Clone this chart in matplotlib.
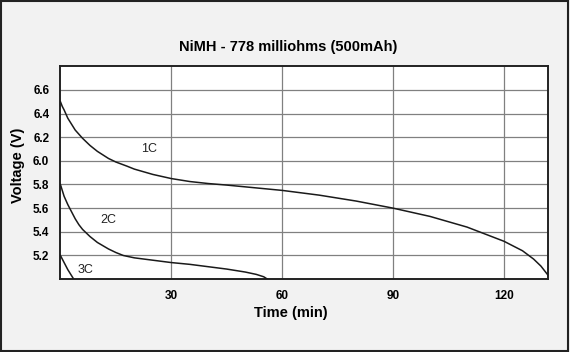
import matplotlib.pyplot as plt
from matplotlib.patches import Rectangle

plt.rcParams['font.family'] = ['Liberation Sans', 'DejaVu Sans']

# discharge curves (minutes, volts)
t_1c = [0, 0.5, 1, 2, 3, 4, 6, 8, 10, 13, 15, 18, 20, 25, 30, 35, 40, 45,
        50, 60, 70, 80, 90, 100, 110, 115, 120, 125, 128, 130, 131, 132]
v_1c = [6.5, 6.46, 6.43, 6.36, 6.31, 6.26, 6.19, 6.13, 6.08, 6.02, 5.99,
        5.955, 5.93, 5.885, 5.85, 5.825, 5.808, 5.795, 5.78, 5.75, 5.71,
        5.66, 5.6, 5.53, 5.44, 5.38, 5.32, 5.24, 5.17, 5.11, 5.07, 5.03]

t_2c = [0, 0.5, 1, 2, 3, 4, 5, 6, 8, 10, 13, 15, 17, 20, 25, 30, 35, 40,
        45, 50, 53, 55, 56]
v_2c = [5.8, 5.75, 5.7, 5.63, 5.57, 5.51, 5.46, 5.42, 5.36, 5.31, 5.255,
        5.225, 5.2, 5.18, 5.16, 5.14, 5.125, 5.105, 5.085, 5.06, 5.04,
        5.02, 5.0]

t_3c = [0, 0.5, 1, 2, 3, 3.6]
v_3c = [5.2, 5.17, 5.14, 5.08, 5.03, 5.0]

labels = ['1C', '2C', '3C']
label_t = [24, 13, 6.8]
label_v = [6.1, 5.5, 5.08]

xticks = [30, 60, 90, 120]
yticks = [5.2, 5.4, 5.6, 5.8, 6.0, 6.2, 6.4, 6.6]

fig = plt.figure(figsize=(5.7, 3.52), dpi=100)
fig.patch.set_facecolor('#f2f2f2')
fig.patches.append(Rectangle((0.002, 0.004), 0.994, 0.992, transform=fig.transFigure,
                             fill=False, edgecolor='#222222', linewidth=1.5))

ax = fig.add_axes([0.106, 0.207, 0.856, 0.605])
ax.set_facecolor('white')

for t, v in [(t_1c, v_1c), (t_2c, v_2c), (t_3c, v_3c)]:
    ax.plot(t, v, color='#1a1a1a', linewidth=1.1, zorder=3)

for lab, x, y in zip(labels, label_t, label_v):
    ax.text(x, y, lab, fontsize=9, ha='center', va='center', color='#222222')

ax.set_xlim(0, 132)
ax.set_ylim(5.0, 6.8)
ax.set_xticks(xticks)
ax.set_yticks(yticks)
ax.set_yticklabels([f'{y:.1f}' for y in yticks])
ax.grid(True, color='#808080', linewidth=0.9)
ax.set_axisbelow(True)
ax.tick_params(length=0, labelsize=8.5, pad=8)
for lbl in ax.get_xticklabels() + ax.get_yticklabels():
    lbl.set_fontweight('bold')
for s in ax.spines.values():
    s.set_linewidth(1.4)
    s.set_color('#222222')

ax.set_xlabel('Time (min)', fontsize=10.5, fontweight='bold')
ax.xaxis.set_label_coords(0.472, -0.125)
ax.set_ylabel('Voltage (V)', fontsize=10.5, fontweight='bold')
ax.yaxis.set_label_coords(-0.073, 0.535)
fig.text(0.505, 0.866, 'NiMH - 778 milliohms (500mAh)', fontsize=10.5,
         fontweight='bold', ha='center', va='center')

fig.savefig('out.png', dpi=100, facecolor=fig.get_facecolor())
